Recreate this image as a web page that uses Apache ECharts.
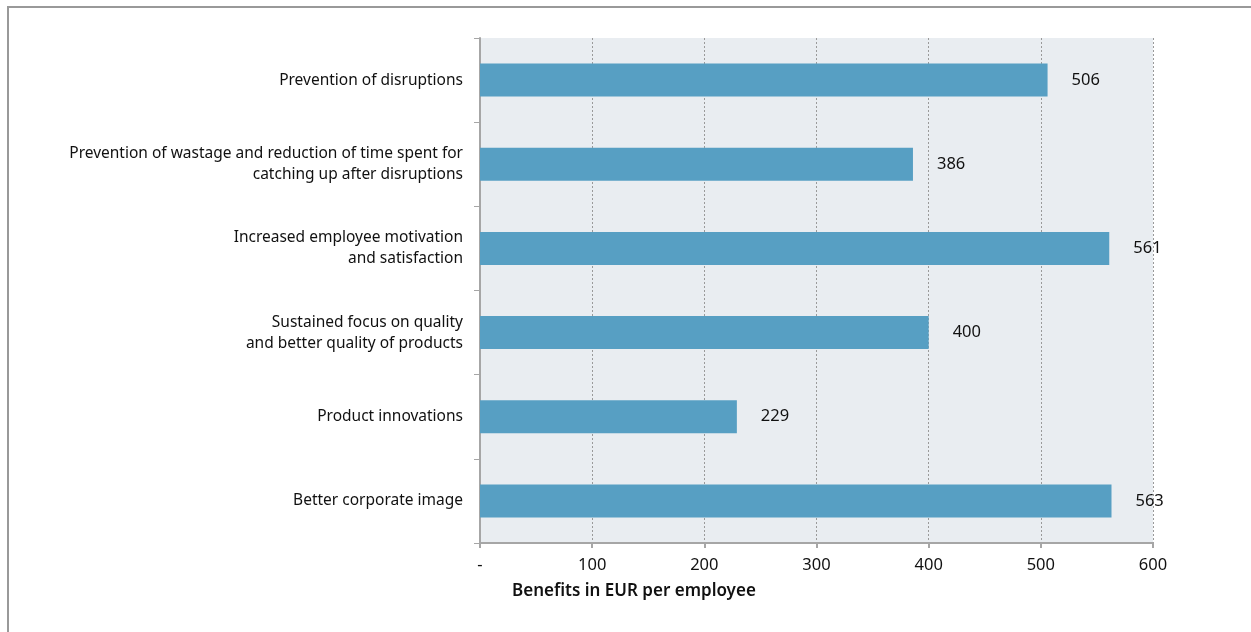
<!DOCTYPE html>
<html>
<head>
<meta charset="utf-8">
<script src="https://cdn.jsdelivr.net/npm/echarts@6/dist/echarts.min.js"></script>
<style>
  html, body { margin: 0; padding: 0; background: #fff; }
  #frame { position: absolute; left: 7px; top: 6px; width: 1260px; height: 640px; border-left: 2px solid #999; border-top: 2px solid #999; }
  #chart { width: 1251px; height: 632px; position: absolute; left: 0; top: 0; }
</style>
</head>
<body>
<div id="frame"></div>
<div id="chart"></div>
<script>
const categories = [
  'Prevention of disruptions',
  'Prevention of wastage and reduction of time spent for\ncatching up after disruptions',
  'Increased employee motivation\nand satisfaction',
  'Sustained focus on quality\nand better quality of products',
  'Product innovations',
  'Better corporate image'
];
const benefits = [506, 386, 561, 400, 229, 563];
const xTicks = ['-', '100', '200', '300', '400', '500', '600'];

const font = '"Noto Sans", sans-serif';
const chart = echarts.init(document.getElementById('chart'));
chart.setOption({
  animation: false,
  textStyle: { fontFamily: font },
  grid: {
    left: 480, right: 98, top: 38, bottom: 89,
    show: true, backgroundColor: '#e9edf1', borderWidth: 0
  },
  xAxis: {
    type: 'value', min: 0, max: 600, interval: 100,
    axisLine: { show: true, lineStyle: { color: '#a6a6a6', width: 2 } },
    axisTick: { show: true, length: 5, lineStyle: { color: '#a6a6a6', width: 2 } },
    axisLabel: {
      color: '#111', fontSize: 16.5, margin: 14,
      formatter: (v) => xTicks[Math.round(v / 100)]
    },
    splitLine: { show: true, lineStyle: { color: '#9a9a9a', type: [2, 2], width: 1 } }
  },
  yAxis: {
    type: 'category', data: categories, inverse: true,
    axisLine: { show: true, lineStyle: { color: '#a6a6a6', width: 2 } },
    axisTick: { show: true, length: 6, lineStyle: { color: '#a6a6a6', width: 1 } },
    axisLabel: { color: '#111', fontSize: 15.5, margin: 17, lineHeight: 21, align: 'right' },
    splitLine: { show: false }
  },
  series: [{
    type: 'bar', data: benefits, barWidth: 33,
    itemStyle: { color: '#579fc3' },
    label: { show: true, position: 'right', distance: 24, color: '#111', fontSize: 16.5 }
  }],
  graphic: [{
    type: 'text', left: 512, top: 583,
    style: { text: 'Benefits in EUR per employee', font: '600 17px ' + font, fill: '#111' }
  }]
});
</script>
</body>
</html>
